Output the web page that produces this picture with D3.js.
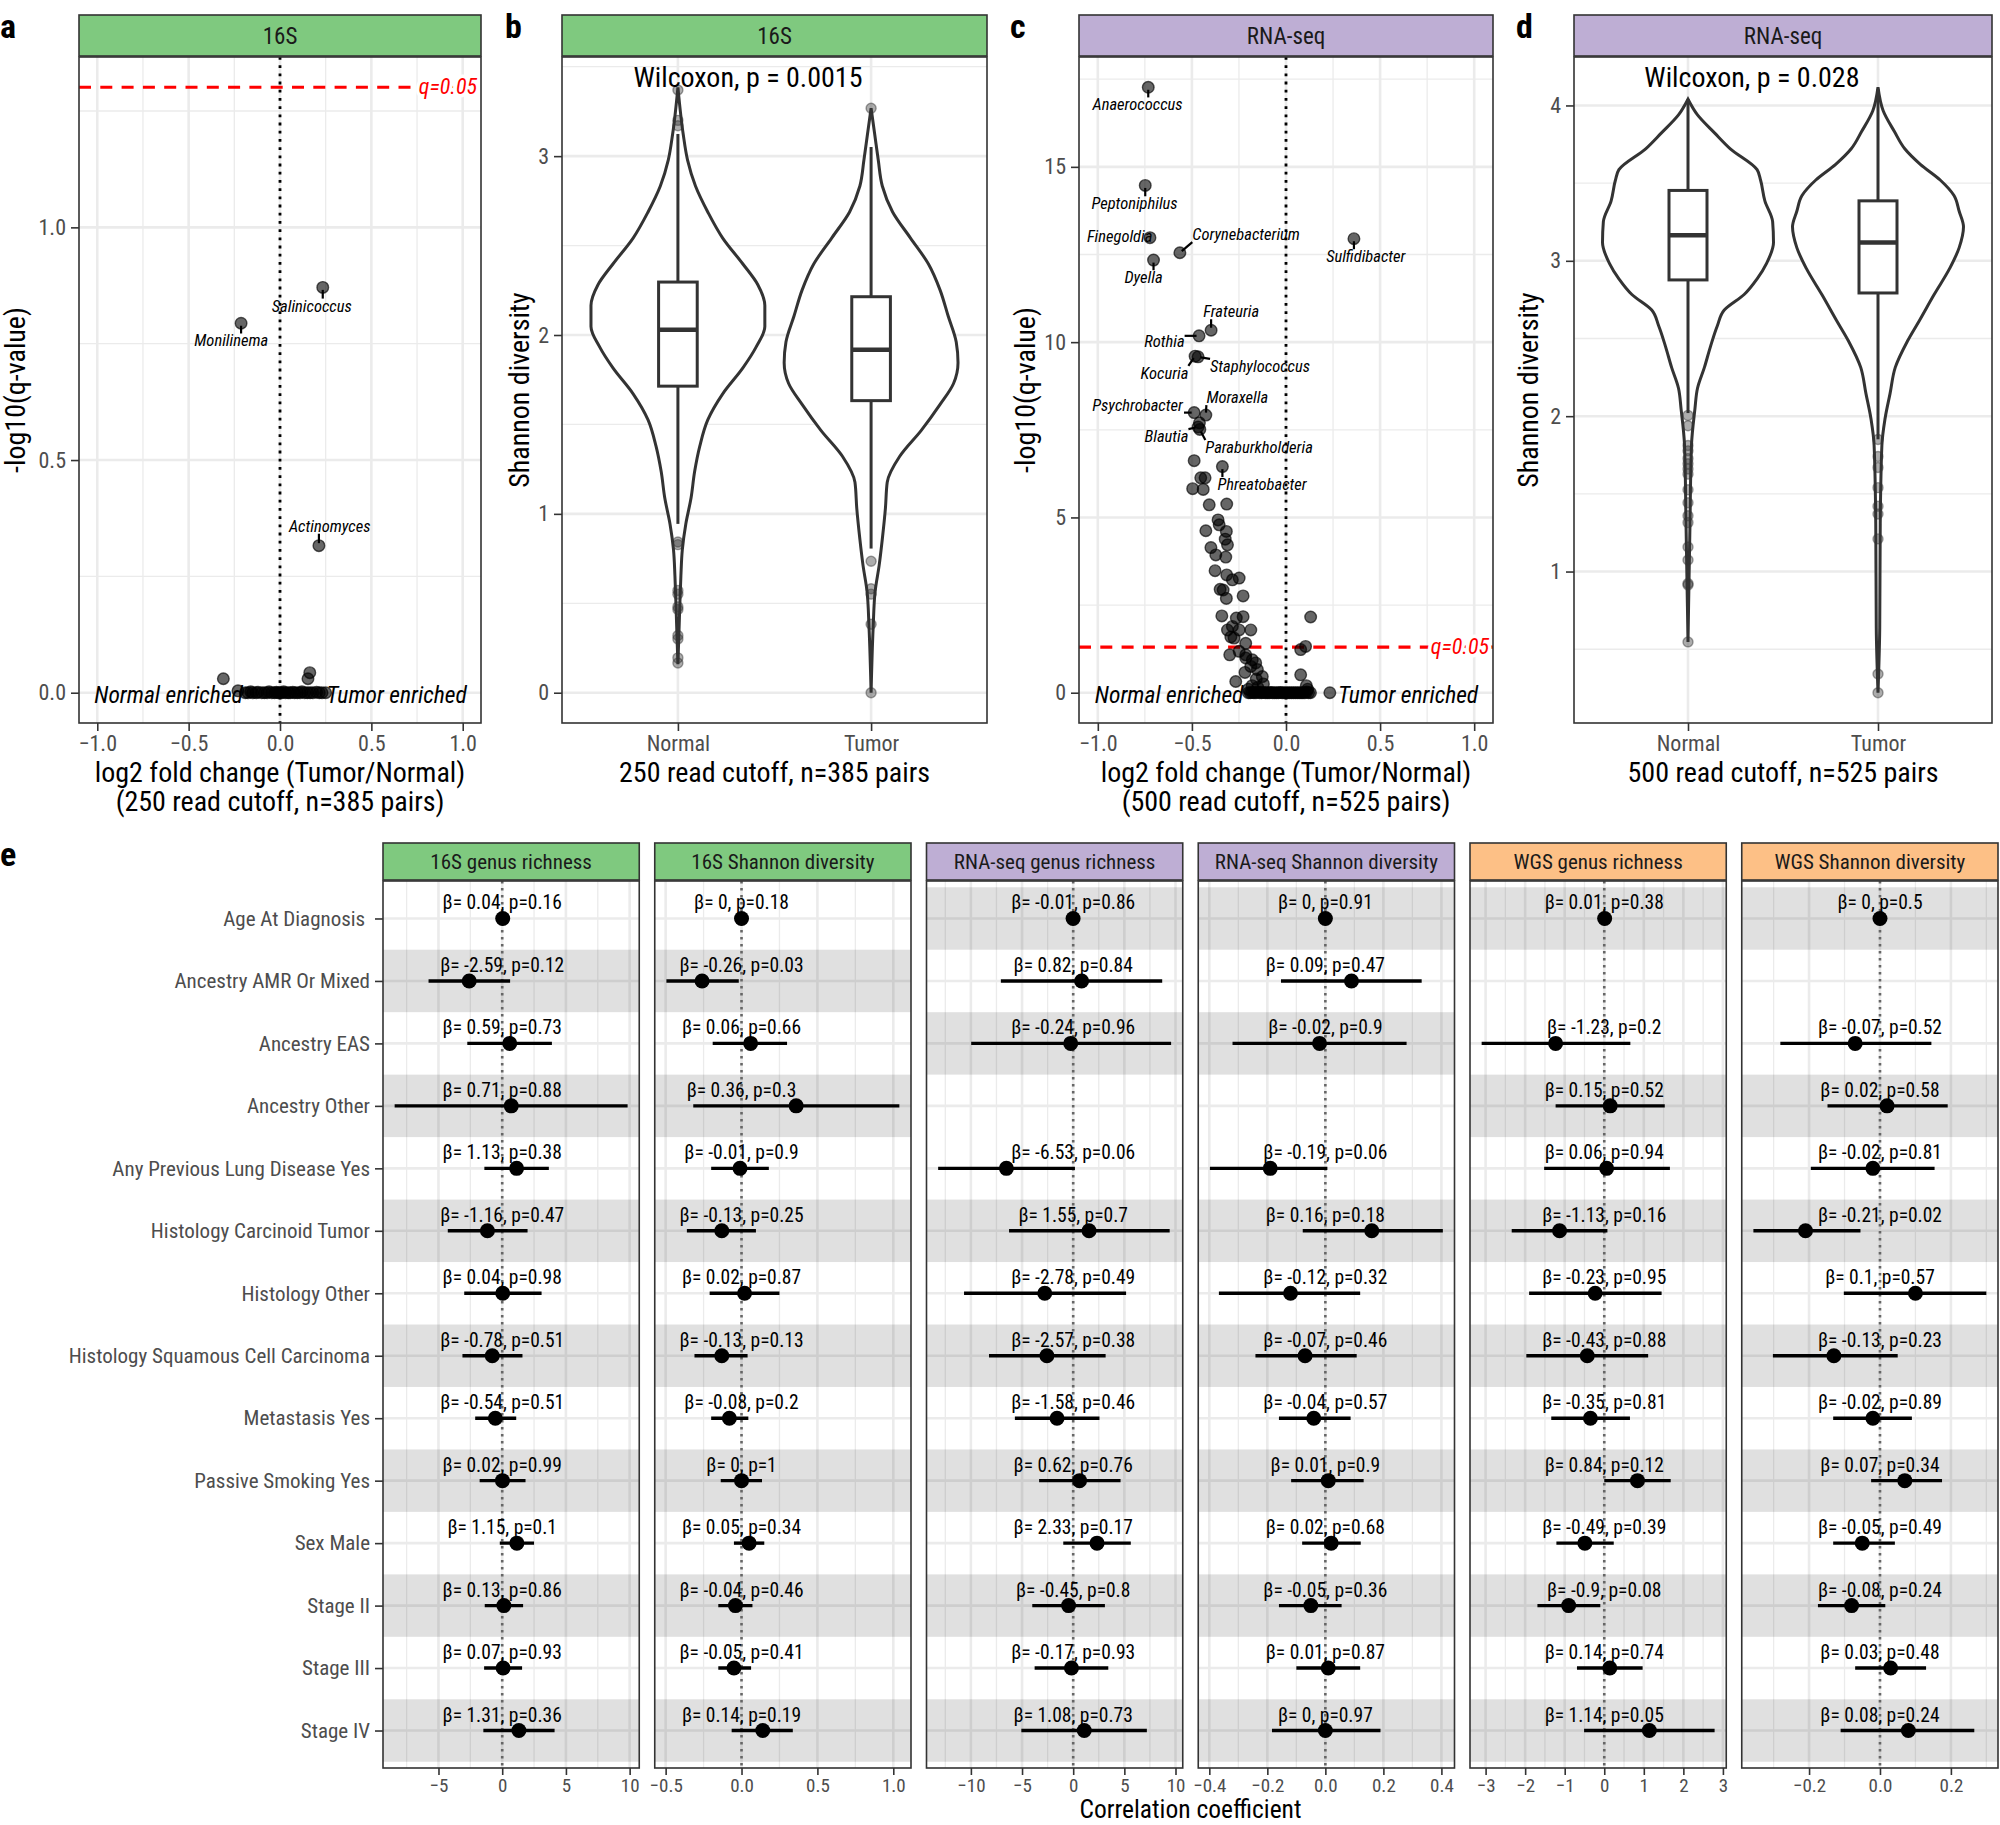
<!DOCTYPE html>
<html lang="en">
<head>
<meta charset="UTF-8">
<title>Tumor vs normal microbiome</title>
<script src="https://cdn.jsdelivr.net/npm/d3@7"></script>
<style>
  body { margin: 0; background: #fff; }
  svg text { font-family: 'Roboto Condensed', 'Liberation Sans Narrow', 'Arial Narrow', 'DejaVu Sans Condensed', sans-serif; }
</style>
</head>
<body>
<svg id="chart"></svg>
<script>
// ---------- data ----------
const qThreshold = 0.05;
const lfcLimits = [-1, 1];
const lfcTicks = [-1, -0.5, 0, 0.5, 1];

// panel a: 16S, labelled genera (lfc, -log10 q, label anchor)
const a16SLabelled = [
  {genus: "Salinicoccus", lfc: 0.234, mlq: 0.871, lx: 0.174, ly: 0.819},
  {genus: "Monilinema", lfc: -0.213, mlq: 0.794, lx: -0.267, ly: 0.744},
  {genus: "Actinomyces", lfc: 0.213, mlq: 0.316, lx: 0.272, ly: 0.346}
];
const a16SOther = [
  [-0.31, 0.03], [0.163, 0.043], [0.153, 0.03], [-0.23, 0.004],
  [-0.19, 0], [-0.175, 0], [-0.16, 0.002], [-0.15, 0], [-0.13, 0], [-0.12, 0.001],
  [-0.1, 0], [-0.085, 0], [-0.07, 0], [-0.06, 0.002], [-0.045, 0], [-0.03, 0],
  [-0.02, 0.001], [-0.01, 0], [0, 0], [0.01, 0], [0.02, 0.002], [0.03, 0],
  [0.045, 0], [0.055, 0], [0.07, 0.001], [0.08, 0], [0.095, 0], [0.11, 0],
  [0.12, 0.002], [0.135, 0], [0.15, 0], [0.165, 0], [0.18, 0], [0.2, 0.001],
  [0.215, 0], [0.23, 0], [0.25, 0]
];

// panel c: RNA-seq
const cRnaLabelled = [
  {genus: "Anaerococcus", lfc: -0.732, mlq: 17.27, lx: -0.789, ly: 16.61},
  {genus: "Peptoniphilus", lfc: -0.748, mlq: 14.47, lx: -0.805, ly: 13.79},
  {genus: "Finegoldia", lfc: -0.723, mlq: 12.98, lx: -0.884, ly: 12.85},
  {genus: "Corynebacterium", lfc: -0.564, mlq: 12.55, lx: -0.212, ly: 12.91},
  {genus: "Dyella", lfc: -0.704, mlq: 12.34, lx: -0.757, ly: 11.68},
  {genus: "Sulfidibacter", lfc: 0.361, mlq: 12.95, lx: 0.424, ly: 12.28},
  {genus: "Frateuria", lfc: -0.398, mlq: 10.34, lx: -0.291, ly: 10.71},
  {genus: "Rothia", lfc: -0.462, mlq: 10.18, lx: -0.646, ly: 9.86},
  {genus: "Kocuria", lfc: -0.483, mlq: 9.6, lx: -0.646, ly: 8.95},
  {genus: "Staphylococcus", lfc: -0.467, mlq: 9.58, lx: -0.138, ly: 9.15},
  {genus: "Psychrobacter", lfc: -0.488, mlq: 7.99, lx: -0.789, ly: 8.03},
  {genus: "Moraxella", lfc: -0.426, mlq: 7.92, lx: -0.259, ly: 8.26},
  {genus: "Blautia", lfc: -0.467, mlq: 7.58, lx: -0.635, ly: 7.15},
  {genus: "Paraburkholderia", lfc: -0.458, mlq: 7.51, lx: -0.143, ly: 6.84},
  {genus: "Phreatobacter", lfc: -0.338, mlq: 6.45, lx: -0.127, ly: 5.78}
];
const cRnaOther = [
  [-0.46, 7.7], [-0.488, 6.62], [-0.453, 6.13], [-0.43, 6.13], [-0.496, 5.82], [-0.44, 5.8],
  [-0.408, 5.36], [-0.315, 5.38], [-0.361, 4.93], [-0.355, 4.79], [-0.426, 4.62],
  [-0.317, 4.6], [-0.323, 4.38], [-0.311, 4.22], [-0.399, 4.14], [-0.373, 3.93],
  [-0.32, 3.87], [-0.377, 3.48], [-0.315, 3.36], [-0.285, 3.22], [-0.249, 3.27],
  [-0.35, 2.95], [-0.334, 2.93], [-0.228, 2.76], [-0.317, 2.69], [-0.341, 2.19],
  [0.131, 2.16], [-0.264, 2.13], [-0.228, 2.17], [-0.311, 1.79], [-0.285, 1.89],
  [-0.249, 1.79], [-0.187, 1.79], [-0.293, 1.59], [-0.276, 1.56], [-0.214, 1.41],
  [0.104, 1.32], [0.078, 1.23], [-0.299, 1.08], [-0.249, 1.18], [-0.214, 1.08],
  [-0.214, 0.99], [-0.179, 0.94], [-0.161, 0.85], [-0.187, 0.75], [-0.152, 0.66],
  [-0.126, 0.46], [-0.158, 0.39], [-0.218, 0.58], [-0.267, 0.32], [0.078, 0.51],
  [0.108, 0.2], [0.115, 0.1], [-0.2, 0.1], [-0.18, 0.2], [-0.15, 0.15], [-0.12, 0.25],
  [-0.2, 0], [-0.19, 0], [-0.18, 0.01], [-0.17, 0], [-0.16, 0], [-0.15, 0.02],
  [-0.14, 0], [-0.13, 0], [-0.12, 0.01], [-0.11, 0], [-0.1, 0], [-0.09, 0],
  [-0.08, 0.01], [-0.07, 0], [-0.06, 0], [-0.05, 0], [-0.04, 0], [-0.03, 0.01],
  [-0.02, 0], [-0.01, 0], [0, 0], [0.01, 0], [0.02, 0], [0.03, 0], [0.04, 0],
  [0.05, 0], [0.06, 0], [0.07, 0], [0.08, 0], [0.09, 0], [0.1, 0], [0.11, 0.02],
  [0.12, 0], [0.13, 0], [0.233, 0]
];

// panels b, d: Shannon diversity violins [value, relative width]
const groups = ["Normal", "Tumor"];
const violin16SNormal = [[3.385,0],[3.124,0.06],[2.978,0.11],[2.833,0.2],[2.688,0.34],[2.542,0.51],[2.397,0.74],[2.281,0.91],[2.165,0.99],[2.048,0.99],[1.932,0.89],[1.816,0.74],[1.671,0.51],[1.525,0.34],[1.38,0.25],[1.235,0.19],[1.09,0.15],[0.944,0.09],[0.799,0.05],[0.654,0.034],[0.508,0.023],[0.159,0]];
const violin16STumor = [[3.268,0],[3.124,0.04],[2.978,0.08],[2.833,0.125],[2.688,0.24],[2.542,0.44],[2.397,0.64],[2.251,0.77],[2.106,0.86],[1.961,0.95],[1.845,0.97],[1.729,0.92],[1.612,0.77],[1.467,0.56],[1.322,0.32],[1.177,0.18],[1.032,0.16],[0.858,0.125],[0.712,0.09],[0.567,0.045],[0.364,0.023],[0,0]];
const violinRnaNormal = [[4.04,0],[3.939,0.11],[3.822,0.31],[3.721,0.49],[3.587,0.8],[3.52,0.84],[3.386,0.89],[3.252,0.98],[3.118,0.99],[2.984,0.91],[2.884,0.8],[2.783,0.65],[2.683,0.42],[2.582,0.34],[2.448,0.26],[2.314,0.19],[2.18,0.11],[2.045,0.08],[1.811,0.04],[1.308,0.023],[0.547,0]];
const violinRnaTumor = [[4.117,0],[3.966,0.06],[3.832,0.19],[3.721,0.31],[3.621,0.49],[3.52,0.72],[3.42,0.88],[3.319,0.94],[3.219,0.99],[3.085,0.94],[2.951,0.83],[2.783,0.65],[2.616,0.48],[2.482,0.34],[2.314,0.2],[2.147,0.14],[1.979,0.08],[1.811,0.045],[1.308,0.026],[0.638,0.02],[0.22,0]];

// box stats: [lower whisker, q1, median, q3, upper whisker]
const box16SNormal = [0.944, 1.714, 2.029, 2.296, 3.124];
const box16STumor = [0.806, 1.633, 1.918, 2.214, 3.051];
const boxRnaNormal = [2.02, 2.877, 3.165, 3.453, 4.04];
const boxRnaTumor = [1.851, 2.793, 3.118, 3.386, 4.107];

const out16SNormal = [3.37, 3.2, 3.17, 0.843, 0.828, 0.572, 0.551, 0.48, 0.465, 0.32, 0.3, 0.195, 0.166];
const out16STumor = [3.268, 0.735, 0.581, 0.551, 0.383, 0];
const outRnaNormal = [2.005, 1.938, 1.811, 1.777, 1.727, 1.694, 1.66, 1.627, 1.526, 1.443, 1.359, 1.315, 1.158, 1.074, 0.923, 0.913, 0.547];
const outRnaTumor = [1.85, 1.74, 1.67, 1.54, 1.42, 1.37, 1.21, 0.34, 0.22];

const diversityTicks16S = [0, 1, 2, 3];
const diversityTicksRna = [1, 2, 3, 4];

// panel e: covariates and regression rows [beta, p, ci low, ci high]
const covariates = [
  "Age At Diagnosis ", "Ancestry AMR Or Mixed", "Ancestry EAS", "Ancestry Other",
  "Any Previous Lung Disease Yes", "Histology Carcinoid Tumor", "Histology Other",
  "Histology Squamous Cell Carcinoma", "Metastasis Yes", "Passive Smoking Yes",
  "Sex Male", "Stage II", "Stage III", "Stage IV"
];
const rich16S = [
  [0.04,0.16,-0.05,0.13], [-2.59,0.12,-5.78,0.62], [0.59,0.73,-2.74,3.9], [0.71,0.88,-8.44,9.84],
  [1.13,0.38,-1.4,3.66], [-1.16,0.47,-4.27,1.99], [0.04,0.98,-2.98,3.09], [-0.78,0.51,-3.12,1.59],
  [-0.54,0.51,-2.12,1.1], [0.02,0.99,-1.77,1.83], [1.15,0.1,-0.19,2.5], [0.13,0.86,-1.37,1.64],
  [0.07,0.93,-1.42,1.56], [1.31,0.36,-1.48,4.11]
];
const shannon16S = [
  [0,0.18,-0.004,0.004], [-0.26,0.03,-0.495,-0.018], [0.06,0.66,-0.19,0.3], [0.36,0.3,-0.318,1.04],
  [-0.01,0.9,-0.2,0.18], [-0.13,0.25,-0.36,0.095], [0.02,0.87,-0.21,0.25], [-0.13,0.13,-0.31,0.04],
  [-0.08,0.2,-0.2,0.045], [0,1,-0.137,0.135], [0.05,0.34,-0.05,0.15], [-0.04,0.46,-0.153,0.072],
  [-0.05,0.41,-0.153,0.063], [0.14,0.19,-0.065,0.338]
];
const richRna = [
  [-0.01,0.86,-0.08,0.06], [0.82,0.84,-7.07,8.7], [-0.24,0.96,-9.97,9.57], null,
  [-6.53,0.06,-13.2,0.17], [1.55,0.7,-6.27,9.43], [-2.78,0.49,-10.67,5.17], [-2.57,0.38,-8.23,3.17],
  [-1.58,0.46,-5.7,2.57], [0.62,0.76,-3.33,4.63], [2.33,0.17,-0.97,5.63], [-0.45,0.8,-4.0,3.1],
  [-0.17,0.93,-3.77,3.43], [1.08,0.73,-5.07,7.2]
];
const shannonRna = [
  [0,0.91,-0.003,0.003], [0.09,0.47,-0.153,0.332], [-0.02,0.9,-0.32,0.28], null,
  [-0.19,0.06,-0.398,0.007], [0.16,0.18,-0.078,0.405], [-0.12,0.32,-0.367,0.12], [-0.07,0.46,-0.241,0.108],
  [-0.04,0.57,-0.16,0.087], [0.01,0.9,-0.118,0.132], [0.02,0.68,-0.08,0.122], [-0.05,0.36,-0.16,0.056],
  [0.01,0.87,-0.1,0.12], [0,0.97,-0.184,0.19]
];
const richWgs = [
  [0.01,0.38,-0.02,0.03], null, [-1.23,0.2,-3.1,0.66], [0.15,0.52,-1.23,1.53],
  [0.06,0.94,-1.52,1.66], [-1.13,0.16,-2.34,0.08], [-0.23,0.95,-1.9,1.45], [-0.43,0.88,-1.97,1.11],
  [-0.35,0.81,-1.34,0.65], [0.84,0.12,0.0,1.68], [-0.49,0.39,-1.21,0.24], [-0.9,0.08,-1.69,-0.1],
  [0.14,0.74,-0.69,0.97], [1.14,0.05,-0.51,2.79]
];
const shannonWgs = [
  [0,0.5,-0.003,0.003], null, [-0.07,0.52,-0.281,0.145], [0.02,0.58,-0.148,0.191],
  [-0.02,0.81,-0.195,0.154], [-0.21,0.02,-0.357,-0.055], [0.1,0.57,-0.102,0.3], [-0.13,0.23,-0.302,0.05],
  [-0.02,0.89,-0.132,0.09], [0.07,0.34,-0.025,0.175], [-0.05,0.49,-0.132,0.042], [-0.08,0.24,-0.175,0.015],
  [0.03,0.48,-0.07,0.13], [0.08,0.24,-0.111,0.266]
];
const forestPanels = [
  {title: "16S genus richness", assay: "16S", rows: rich16S, ticks: [-5, 0, 5, 10], fmt: "d"},
  {title: "16S Shannon diversity", assay: "16S", rows: shannon16S, ticks: [-0.5, 0, 0.5, 1], fmt: ".1f"},
  {title: "RNA-seq genus richness", assay: "RNA-seq", rows: richRna, ticks: [-10, -5, 0, 5, 10], fmt: "d"},
  {title: "RNA-seq Shannon diversity", assay: "RNA-seq", rows: shannonRna, ticks: [-0.4, -0.2, 0, 0.2, 0.4], fmt: ".1f"},
  {title: "WGS genus richness", assay: "WGS", rows: richWgs, ticks: [-3, -2, -1, 0, 1, 2, 3], fmt: "d"},
  {title: "WGS Shannon diversity", assay: "WGS", rows: shannonWgs, ticks: [-0.2, 0, 0.2], fmt: ".1f"}
];

// ---------- styling ----------
const COND = "'Roboto Condensed','Liberation Sans Narrow','Arial Narrow','DejaVu Sans Condensed',sans-serif";
const ARIAL = "'Liberation Sans',Arial,Helvetica,sans-serif";
const stripFill = {"16S": "#7fc97f", "RNA-seq": "#beaed4", "WGS": "#fdc086"};
const GRID = "#ebebeb", BORDER = "#333333", TICK_TXT = "#4d4d4d";

const svg = d3.select("#chart").attr("width", 2000).attr("height", 1825);

function expand(ext, f = 0.05) {
  const r = ext[1] - ext[0];
  return [ext[0] - r * f, ext[1] + r * f];
}
function minorOf(ticks, dom) {
  const step = ticks[1] - ticks[0], out = [];
  for (let k = -1; k < ticks.length; k++) {
    const v = ticks[0] + step * (k + 0.5);
    if (v > dom[0] && v < dom[1]) out.push(v);
  }
  return out;
}
function vLines(g, xs, x, y0, y1, w) {
  g.selectAll(null).data(xs).enter().append("line")
    .attr("x1", d => x(d)).attr("x2", d => x(d)).attr("y1", y0).attr("y2", y1)
    .attr("stroke", GRID).attr("stroke-width", w);
}
function hLines(g, ys, y, x0, x1, w) {
  g.selectAll(null).data(ys).enter().append("line")
    .attr("y1", d => y(d)).attr("y2", d => y(d)).attr("x1", x0).attr("x2", x1)
    .attr("stroke", GRID).attr("stroke-width", w);
}
function strip(x0, x1, y0, y1, label, fill, size) {
  svg.append("rect").attr("x", x0).attr("y", y0).attr("width", x1 - x0).attr("height", y1 - y0)
    .attr("fill", fill).attr("stroke", BORDER).attr("stroke-width", 1.6);
  svg.append("text").attr("x", (x0 + x1) / 2).attr("y", (y0 + y1) / 2).attr("dy", "0.36em")
    .attr("text-anchor", "middle").attr("font-size", size).attr("fill", "#1a1a1a").text(label);
}
function border(x0, x1, y0, y1) {
  svg.append("rect").attr("x", x0).attr("y", y0).attr("width", x1 - x0).attr("height", y1 - y0)
    .attr("fill", "none").attr("stroke", BORDER).attr("stroke-width", 1.6);
}
function styleAxis(g, size) {
  g.attr("font-family", COND).attr("font-size", size);
  g.select(".domain").remove();
  g.selectAll(".tick line").attr("stroke", BORDER).attr("stroke-width", 1.6);
  g.selectAll(".tick text").attr("fill", TICK_TXT).style("white-space", "pre");
}
function yTitle(x, y, text) {
  svg.append("text").attr("transform", `translate(${x},${y}) rotate(-90)`)
    .attr("text-anchor", "middle").attr("font-size", 28).text(text);
}
function xTitle(cx, lines) {
  const t = svg.append("text").attr("x", cx).attr("y", 782).attr("text-anchor", "middle").attr("font-size", 28);
  lines.forEach((l, k) => t.append("tspan").attr("x", cx).attr("dy", k ? 29 : 0).text(l));
}
function panelLetter(x, y, l) {
  svg.append("text").attr("x", x).attr("y", y).attr("font-size", 34).attr("font-weight", "bold").text(l);
}

// ---------- volcano panels (a, c) ----------
function volcano(p) {
  const g = svg.append("g");
  const qLine = -Math.log10(qThreshold);
  const x = d3.scaleLinear().domain(expand(lfcLimits)).range([p.left, p.right]);
  const yMax = d3.max([qLine, ...p.labelled.map(d => d.mlq), ...p.other.map(d => d[1])]);
  const y = d3.scaleLinear().domain(expand([0, yMax])).range([p.bottom, p.top]);
  const xDom = x.domain(), yDom = y.domain();

  g.append("rect").attr("x", p.left).attr("y", p.top).attr("width", p.right - p.left)
    .attr("height", p.bottom - p.top).attr("fill", "#fff");
  vLines(g, minorOf(lfcTicks, xDom), x, p.top, p.bottom, 1.3);
  hLines(g, minorOf(p.yTicks, yDom), y, p.left, p.right, 1.3);
  vLines(g, lfcTicks, x, p.top, p.bottom, 2.6);
  hLines(g, p.yTicks, y, p.left, p.right, 2.6);

  g.append("line").attr("x1", p.left).attr("x2", p.right).attr("y1", y(qLine)).attr("y2", y(qLine))
    .attr("stroke", "#ff0000").attr("stroke-width", 3.2).attr("stroke-dasharray", "12,9.3");
  g.append("line").attr("x1", x(0)).attr("x2", x(0)).attr("y1", p.top).attr("y2", p.bottom)
    .attr("stroke", "#000").attr("stroke-width", 2.8).attr("stroke-dasharray", "2.8,5.4");
  g.append("text").attr("x", p.right - 4).attr("y", y(qLine)).attr("dy", "0.3em")
    .attr("text-anchor", "end").attr("font-size", 22).attr("font-style", "italic")
    .attr("fill", "#ff0000").attr("stroke", "#fff").attr("stroke-width", 7)
    .attr("paint-order", "stroke").text("q=" + qThreshold);

  const pts = p.other.map(d => ({lfc: d[0], mlq: d[1]})).concat(p.labelled);
  g.selectAll(null).data(pts).enter().append("circle")
    .attr("cx", d => x(d.lfc)).attr("cy", d => y(d.mlq)).attr("r", 5.8)
    .attr("fill", "#000").attr("fill-opacity", 0.6)
    .attr("stroke", "#000").attr("stroke-opacity", 0.65).attr("stroke-width", 1.4);

  p.labelled.forEach(d => {
    const t = g.append("text").attr("x", x(d.lx)).attr("y", y(d.ly)).attr("text-anchor", "middle")
      .attr("font-family", ARIAL).attr("font-style", "italic").attr("font-size", 16.5).text(d.genus);
    const b = t.node().getBBox();
    const px = x(d.lfc), py = y(d.mlq);
    const nx = Math.max(b.x, Math.min(px, b.x + b.width));
    const ny = Math.max(b.y + 2, Math.min(py, b.y + b.height - 2));
    const dist = Math.hypot(nx - px, ny - py);
    if (dist > 8) {
      g.append("line").attr("x1", px + (nx - px) * 2.5 / dist).attr("y1", py + (ny - py) * 2.5 / dist)
        .attr("x2", nx).attr("y2", ny).attr("stroke", "#000").attr("stroke-width", 2.2);
    }
  });

  g.append("text").attr("x", x(-1) - 3).attr("y", y(0)).attr("dy", "0.45em").attr("font-size", 23.5)
    .attr("font-style", "italic").text("Normal enriched");
  g.append("text").attr("x", x(1) + 4).attr("y", y(0)).attr("dy", "0.45em").attr("font-size", 23.5)
    .attr("text-anchor", "end").attr("font-style", "italic").text("Tumor enriched");

  border(p.left, p.right, p.top, p.bottom);
  strip(p.left, p.right, 15, p.top - 1, p.assay, stripFill[p.assay], 23);

  const ax = svg.append("g").attr("transform", `translate(0,${p.bottom})`)
    .call(d3.axisBottom(x).tickValues(lfcTicks).tickFormat(d3.format(".1f")).tickSize(8).tickPadding(4));
  styleAxis(ax, 22);
  const ay = svg.append("g").attr("transform", `translate(${p.left},0)`)
    .call(d3.axisLeft(y).tickValues(p.yTicks).tickFormat(d3.format(p.yFmt)).tickSize(8).tickPadding(5));
  styleAxis(ay, 22);

  xTitle((p.left + p.right) / 2, ["log2 fold change (Tumor/Normal)", p.cutoff]);
  yTitle(p.yTitleX, (p.top + p.bottom) / 2, "-log10(q-value)");
}

// ---------- violin panels (b, d) ----------
function violinPanel(p) {
  const g = svg.append("g");
  const x = d3.scalePoint().domain(groups).range([p.left, p.right]).padding(0.6);
  const step = x.step();
  const allVals = p.violins.flatMap(v => v.map(d => d[0])).concat(p.outliers.flat());
  const y = d3.scaleLinear().domain(expand(d3.extent(allVals))).range([p.bottom, p.top]);
  const yDom = y.domain();

  g.append("rect").attr("x", p.left).attr("y", p.top).attr("width", p.right - p.left)
    .attr("height", p.bottom - p.top).attr("fill", "#fff");
  hLines(g, minorOf(p.yTicks, yDom), y, p.left, p.right, 1.3);
  hLines(g, p.yTicks, y, p.left, p.right, 2.6);
  g.selectAll(null).data(groups).enter().append("line")
    .attr("x1", d => x(d)).attr("x2", d => x(d)).attr("y1", p.top).attr("y2", p.bottom)
    .attr("stroke", GRID).attr("stroke-width", 2.6);

  groups.forEach((grp, i) => {
    const cx = x(grp);
    const dens = p.violins[i];
    const wMax = d3.max(dens, d => d[1]);
    const w = d3.scaleLinear().domain([0, wMax]).range([0, 0.45 * step]);
    const area = d3.area().curve(d3.curveMonotoneY)
      .y(d => y(d[0])).x0(d => cx - w(d[1])).x1(d => cx + w(d[1]));
    g.append("path").datum(dens.slice().sort((a, b) => a[0] - b[0])).attr("d", area)
      .attr("fill", "#fff").attr("stroke", BORDER).attr("stroke-width", 3);

    const [lw, q1, med, q3, uw] = p.boxes[i];
    const bw = 0.1 * step;
    g.append("line").attr("x1", cx).attr("x2", cx).attr("y1", y(uw)).attr("y2", y(q3))
      .attr("stroke", BORDER).attr("stroke-width", 3);
    g.append("line").attr("x1", cx).attr("x2", cx).attr("y1", y(q1)).attr("y2", y(lw))
      .attr("stroke", BORDER).attr("stroke-width", 3);
    g.append("rect").attr("x", cx - bw).attr("y", y(q3)).attr("width", 2 * bw).attr("height", y(q1) - y(q3))
      .attr("fill", "#fff").attr("stroke", BORDER).attr("stroke-width", 3);
    g.append("line").attr("x1", cx - bw).attr("x2", cx + bw).attr("y1", y(med)).attr("y2", y(med))
      .attr("stroke", BORDER).attr("stroke-width", 4.5);
    g.selectAll(null).data(p.outliers[i]).enter().append("circle")
      .attr("cx", cx).attr("cy", d => y(d)).attr("r", 5)
      .attr("fill", "#333").attr("fill-opacity", 0.4).attr("stroke", "#333").attr("stroke-opacity", 0.45)
      .attr("stroke-width", 1.4);
  });

  const yTop = d3.max(allVals);
  g.append("text").attr("x", x(groups[0]) - 0.23 * step).attr("y", y(yTop)).attr("font-size", 28)
    .text(p.test);

  border(p.left, p.right, p.top, p.bottom);
  strip(p.left, p.right, 15, p.top - 1, p.assay, stripFill[p.assay], 23);

  const ax = svg.append("g").attr("transform", `translate(0,${p.bottom})`)
    .call(d3.axisBottom(x).tickSize(8).tickPadding(4));
  styleAxis(ax, 22);
  const ay = svg.append("g").attr("transform", `translate(${p.left},0)`)
    .call(d3.axisLeft(y).tickValues(p.yTicks).tickFormat(d3.format("d")).tickSize(8).tickPadding(5));
  styleAxis(ay, 22);
  xTitle((p.left + p.right) / 2, [p.cutoff]);
  yTitle(p.yTitleX, (p.top + p.bottom) / 2, "Shannon diversity");
}

volcano({left: 79, right: 481, top: 57, bottom: 723, assay: "16S", labelled: a16SLabelled, other: a16SOther,
  yTicks: [0, 0.5, 1], yFmt: ".1f", cutoff: "(250 read cutoff, n=385 pairs)", yTitleX: 25});
violinPanel({left: 562, right: 987, top: 57, bottom: 723, assay: "16S",
  violins: [violin16SNormal, violin16STumor], boxes: [box16SNormal, box16STumor],
  outliers: [out16SNormal, out16STumor], yTicks: diversityTicks16S,
  test: "Wilcoxon, p = 0.0015", cutoff: "250 read cutoff, n=385 pairs", yTitleX: 529});
volcano({left: 1079, right: 1493, top: 57, bottom: 723, assay: "RNA-seq", labelled: cRnaLabelled, other: cRnaOther,
  yTicks: [0, 5, 10, 15], yFmt: "d", cutoff: "(500 read cutoff, n=525 pairs)", yTitleX: 1035});
violinPanel({left: 1574, right: 1992, top: 57, bottom: 723, assay: "RNA-seq",
  violins: [violinRnaNormal, violinRnaTumor], boxes: [boxRnaNormal, boxRnaTumor],
  outliers: [outRnaNormal, outRnaTumor], yTicks: diversityTicksRna,
  test: "Wilcoxon, p = 0.028", cutoff: "500 read cutoff, n=525 pairs", yTitleX: 1538});

// ---------- forest panels (e) ----------
const E = {left: 383, right: 1998, gap: 15.5, top: 881, bottom: 1768, stripTop: 843};
E.w = (E.right - E.left - E.gap * (forestPanels.length - 1)) / forestPanels.length;
const rowY = d3.scalePoint().domain(d3.range(covariates.length)).range([E.top, E.bottom]).padding(0.6);

forestPanels.forEach((p, i) => {
  const g = svg.append("g");
  const left = E.left + i * (E.w + E.gap), right = left + E.w;
  const present = d3.range(covariates.length).filter(j => p.rows[j]);
  const lo = d3.min(present, j => p.rows[j][2]), hi = d3.max(present, j => p.rows[j][3]);
  const x = d3.scaleLinear().domain(expand([lo, hi])).range([left, right]);
  const step = rowY.step();

  g.append("rect").attr("x", left).attr("y", E.top).attr("width", E.w).attr("height", E.bottom - E.top)
    .attr("fill", "#fff");
  vLines(g, minorOf(p.ticks, x.domain()), x, E.top, E.bottom, 1.3);
  vLines(g, p.ticks, x, E.top, E.bottom, 2.6);
  hLines(g, d3.range(covariates.length), rowY, left, right, 2.6);

  // alternate shading counted from the bottom row of each panel
  const shaded = present.slice().reverse().filter((j, k) => k % 2 === 0);
  g.selectAll(null).data(shaded).enter().append("rect")
    .attr("x", left).attr("width", E.w).attr("y", j => rowY(j) - step / 2).attr("height", step)
    .attr("fill", "#000").attr("fill-opacity", 0.12);

  g.append("line").attr("x1", x(0)).attr("x2", x(0)).attr("y1", E.top).attr("y2", E.bottom)
    .attr("stroke", "#666").attr("stroke-width", 2.6).attr("stroke-dasharray", "2.6,4.4");

  const rows = present.map(j => ({j, beta: p.rows[j][0], p: p.rows[j][1], lo: p.rows[j][2], hi: p.rows[j][3]}));
  g.selectAll(null).data(rows).enter().append("line")
    .attr("x1", d => x(d.lo)).attr("x2", d => x(d.hi)).attr("y1", d => rowY(d.j)).attr("y2", d => rowY(d.j))
    .attr("stroke", "#000").attr("stroke-width", 3.4);
  g.selectAll(null).data(rows).enter().append("circle")
    .attr("cx", d => x(d.beta)).attr("cy", d => rowY(d.j)).attr("r", 7.5).attr("fill", "#000");
  g.selectAll(null).data(rows).enter().append("text")
    .attr("x", x(0)).attr("y", d => rowY(d.j) - 9).attr("text-anchor", "middle").attr("font-size", 19.5)
    .text(d => `β= ${d.beta}, p=${d.p}`);

  border(left, right, E.top, E.bottom);
  strip(left, right, E.stripTop, E.top - 1, p.title, stripFill[p.assay], 21);

  const ax = svg.append("g").attr("transform", `translate(0,${E.bottom})`)
    .call(d3.axisBottom(x).tickValues(p.ticks).tickFormat(d3.format(p.fmt)).tickSize(7).tickPadding(4));
  styleAxis(ax, 19);
  if (i === 0) {
    const ay = svg.append("g").attr("transform", `translate(${left},0)`)
      .call(d3.axisLeft(rowY).tickFormat(j => covariates[j]).tickSize(8).tickPadding(5));
    styleAxis(ay, 21);
  }
});
svg.append("text").attr("x", (E.left + E.right) / 2).attr("y", 1818).attr("text-anchor", "middle")
  .attr("font-size", 25.5).text("Correlation coefficient");

panelLetter(0, 38, "a");
panelLetter(505, 38, "b");
panelLetter(1010, 38, "c");
panelLetter(1516, 38, "d");
panelLetter(0, 866, "e");
</script>
</body>
</html>
